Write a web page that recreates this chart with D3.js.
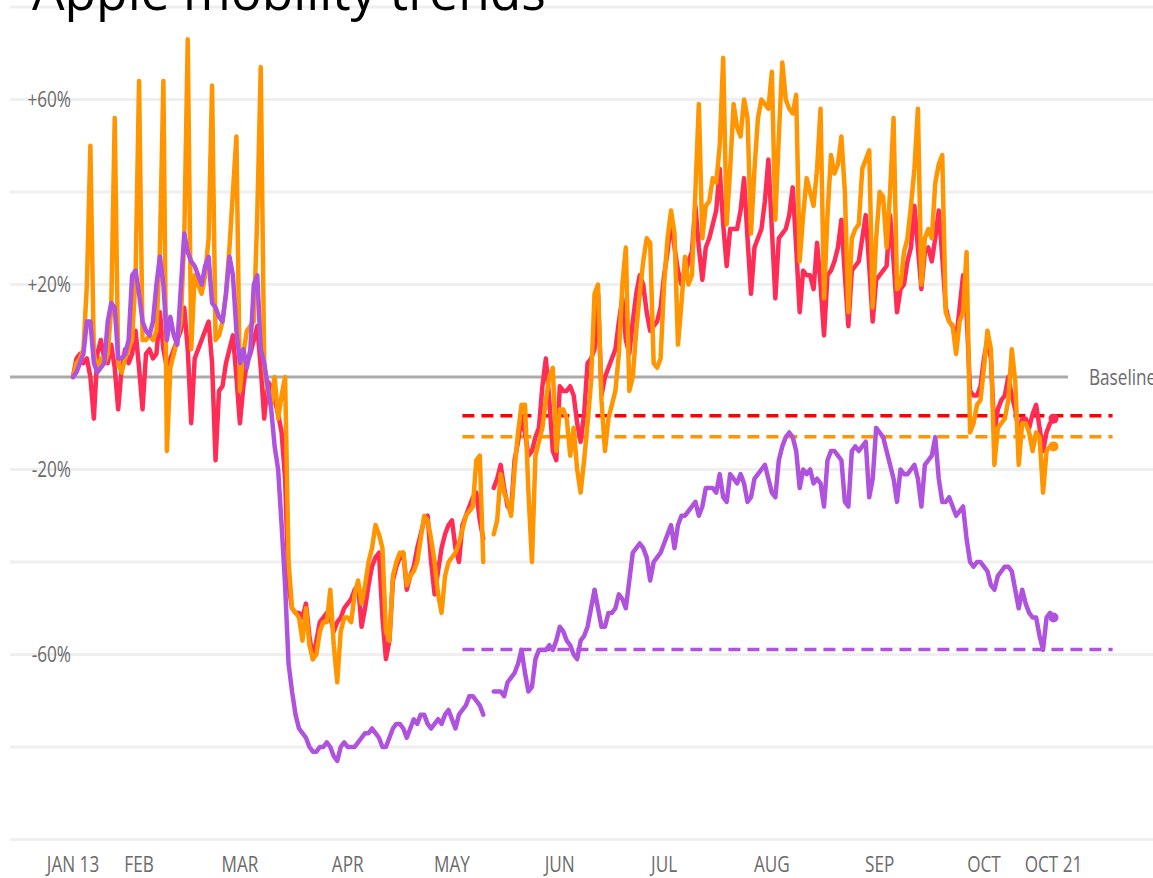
<!DOCTYPE html>
<html>
<head>
<meta charset="utf-8">
<script src="https://cdn.jsdelivr.net/npm/d3@7"></script>
<style>
  html, body { margin: 0; padding: 0; background: #fff; overflow: hidden; }
  svg { display: block; }
</style>
</head>
<body>
<svg id="chart" width="1153" height="878"></svg>
<script>
// daily % change vs Jan 13 baseline, one value per day from Jan 13 to Oct 21 (null = no data)
const firstDay = "2020-01-13";

const driving = [
  0, 4, 5, 3, 4, 0, -9,
  5, 8, 4, 3, 7, 2, -7,
  2, 6, 3, 5, 10, 2, -7,
  5, 6, 4, 5, 14, 6, 2,
  4, 6, 8, 10, 15, 6, -10,
  4, 6, 8, 10, 12, 3, -18,
  -3, -2, 3, 6, 9, 0, -10,
  -2, 3, 5, 8, 11, 2, -9,
  -1, -2, -5, -8, -12, -22, -45,
  -50, -51, -51, -52, -49, -56, -61,
  -57, -53, -52, -51, -52, -55, -53,
  -52, -50, -49, -48, -46, -45, -54,
  -50, -45, -41, -39, -38, -52, -61,
  -57, -44, -41, -39, -38, -46, -43,
  -41, -37, -34, -31, -30, -40, -47,
  -42, -37, -34, -32, -31, -37, -40,
  -32, -30, -28, -26, -25, -31, -35,
  null, null, -24, -22, -19, -24, -28,
  -29, -18, -14, -9, -12, -17, -16,
  -13, -11, -2, 4, -5, -16, -18,
  -2, -3, -3, -2, -4, -10, -14,
  -8, 3, 4, 6, 18, -4, 0,
  2, 4, 6, 12, 17, 8, 5,
  12, 18, 22, 20, 14, 10, 11,
  12, 15, 22, 27, 34, 28, 23,
  20, 22, 25, 27, 37, 28, 21,
  28, 30, 33, 36, 45, 33, 24,
  32, 32, 32, 36, 43, 30, 18,
  28, 30, 32, 38, 47, 32, 17,
  30, 31, 32, 35, 41, 28, 14,
  23, 22, 22, 19, 29, 20, 9,
  22, 23, 25, 28, 34, 22, 11,
  23, 24, 25, 30, 35, 24, 12,
  21, 22, 23, 24, 35, 25, 14,
  19, 20, 25, 28, 37, 28, 19,
  27, 28, 25, 30, 36, 26, 15,
  12, 11, 8, 15, 22, 14, -3,
  -4, -4, -2, 4, 8, 4, -12,
  -7, -5, -4, 0, -4, -7, -12,
  -9, -9, -11, -8, -6, -11, -16,
  -12, -10, -9
];

const walking = [
  0, 3, 4, 6, 20, 50, 5,
  2, 4, 3, 5, 15, 56, 3,
  1, 4, 6, 8, 22, 64, 8,
  8, 9, 8, 10, 28, 64, -16,
  2, 5, 8, 12, 30, 73, 6,
  22, 20, 18, 22, 30, 63, 8,
  9, 12, 18, 28, 40, 52, -3,
  5, 10, 11, 12, 35, 67, 2,
  -3, -6, 0, -9, -4, 0, -40,
  -50, -51, -52, -57, -50, -58, -61,
  -60, -55, -53, -53, -46, -58, -66,
  -55, -52, -52, -53, -47, -44, -49,
  -45, -40, -37, -32, -34, -37, -55,
  -57, -43, -40, -38, -38, -45, -43,
  -42, -40, -35, -30, -31, -35, -40,
  -47, -51, -43, -40, -39, -38, -36,
  -33, -30, -29, -28, -18, -17, -40,
  null, null, -34, -31, -21, -25, -27,
  -30, -20, -12, -6, -6, -25, -40,
  -17, -14, -11, -5, 0, 2, -16,
  -7, -7, -9, -17, -11, -20, -25,
  -18, -10, -1, 18, 20, -5, -16,
  -9, -6, -3, 5, 20, 28, -3,
  0, 10, 18, 25, 30, 29, 3,
  2, 4, 20, 30, 36, 31, 7,
  16, 26, 20, 22, 40, 59, 30,
  37, 38, 43, 42, 50, 69, 33,
  45, 59, 54, 52, 60, 56, 31,
  45, 56, 60, 59, 58, 66, 34,
  52, 68, 60, 58, 57, 61, 25,
  35, 43, 40, 37, 45, 58, 17,
  35, 48, 44, 46, 52, 40, 14,
  30, 32, 33, 45, 47, 49, 15,
  30, 40, 39, 28, 40, 56, 19,
  20, 27, 30, 37, 45, 58, 20,
  30, 32, 30, 42, 46, 48, 14,
  12, 11, 5, 12, 14, 27, -12,
  -10, -6, -5, 2, 10, 6, -19,
  -11, -10, -9, -5, 6, -1, -19,
  -10, -10, -12, -16, -12, -13, -25,
  -16, -15, -15
];

const transit = [
  0, 1, 3, 5, 12, 12, 3,
  1, 2, 3, 12, 16, 15, 4,
  4, 5, 8, 22, 23, 18, 12,
  10, 9, 12, 20, 26, 20, 8,
  13, 9, 7, 19, 31, 27, 25,
  24, 22, 20, 24, 26, 16, 15,
  13, 12, 18, 26, 22, 10, 3,
  6, 2, 6, 20, 22, 6, 3,
  -2, -7, -15, -20, -32, -45, -62,
  -68, -73, -76, -77, -78, -80, -81,
  -81, -80, -80, -79, -80, -82, -83,
  -80, -79, -80, -80, -80, -79, -78,
  -77, -77, -76, -77, -78, -80, -80,
  -78, -76, -75, -75, -76, -78, -76,
  -74, -75, -73, -73, -75, -76, -75,
  -74, -75, -73, -72, -74, -76, -73,
  -72, -71, -69, -69, -70, -71, -73,
  null, null, -68, -68, -68, -69, -66,
  -65, -64, -62, -59, -64, -68, -67,
  -61, -59, -59, -59, -58, -59, -57,
  -54, -55, -57, -58, -60, -61, -57,
  -56, -54, -50, -46, -50, -54, -54,
  -51, -51, -50, -47, -48, -50, -44,
  -38, -37, -36, -37, -39, -44, -40,
  -39, -38, -36, -34, -32, -37, -32,
  -30, -30, -29, -28, -27, -30, -28,
  -24, -24, -24, -25, -21, -26, -27,
  -21, -22, -23, -21, -23, -27, -26,
  -22, -21, -20, -19, -22, -25, -26,
  -18, -15, -13, -12, -13, -16, -24,
  -20, -21, -20, -23, -22, -23, -28,
  -18, -16, -16, -17, -18, -27, -28,
  -16, -15, -16, -15, -14, -26, -22,
  -11, -12, -13, -16, -19, -22, -27,
  -20, -21, -21, -20, -19, -22, -28,
  -19, -18, -17, -13, -22, -27, -27,
  -26, -28, -30, -29, -28, -35, -40,
  -41, -40, -40, -41, -42, -45, -46,
  -43, -42, -41, -41, -42, -46, -50,
  -46, -49, -51, -52, -52, -56, -59,
  -52, -51, -52
];

// dashed reference levels
const refNames = ["driving", "walking", "transit"];
const refValues = [-8.4, -12.9, -58.9];
const refSpan = ["2020-05-04", "2020-11-07"];

const seriesNames = ["driving", "walking", "transit"];
const seriesColors = ["#ff2d55", "#ff9500", "#af52de"];
const refColors = ["#ff0000", "#ff9500", "#af52de"];

const gridValues = [80, 60, 40, 20, 0, -20, -40, -60, -80, -100];
const yTickValues = [60, 20, -20, -60];
const yTickLabels = ["+60%", "+20%", "-20%", "-60%"];
const xTickDates = ["2020-01-13", "2020-02-01", "2020-03-01", "2020-04-01", "2020-05-01",
  "2020-06-01", "2020-07-01", "2020-08-01", "2020-09-01", "2020-10-01", "2020-10-21"];
const xTickLabels = ["JAN 13", "FEB", "MAR", "APR", "MAY", "JUN", "JUL", "AUG", "SEP", "OCT", "OCT 21"];

const parseDay = d3.utcParse("%Y-%m-%d");
const start = parseDay(firstDay);
const dates = d3.utcDay.range(start, d3.utcDay.offset(start, walking.length));

const svg = d3.select("#chart");
const W = 1153;
const font = "'Open Sans', 'Segoe UI', sans-serif";

const x = d3.scaleUtc()
  .domain([start, dates[dates.length - 1]])
  .range([73, 1053.5]);

const y = d3.scaleLinear()
  .domain([-100, 80])
  .range([839.5, 7]);

svg.append("rect").attr("width", W).attr("height", 878).attr("fill", "#fff");

// grid
const grid = svg.append("g").attr("id", "grid");
grid.selectAll("line")
  .data(gridValues.filter(v => v !== 0))
  .join("line")
  .attr("x1", 10)
  .attr("x2", W)
  .attr("y1", d => y(d))
  .attr("y2", d => y(d))
  .attr("stroke", "#efefef")
  .attr("stroke-width", 3);

// title (sits mostly above the top edge, as in the original)
const title = svg.append("text")
  .attr("x", 32)
  .attr("y", 10)
  .attr("font-family", font)
  .attr("font-size", 48)
  .attr("fill", "#000")
  .text("Apple mobility trends");
const tw = title.node().getComputedTextLength();
title.attr("font-size", 48 * 514 / tw);

// baseline
svg.append("line")
  .attr("x1", 10)
  .attr("x2", 1068)
  .attr("y1", y(0))
  .attr("y2", y(0))
  .attr("stroke", "#ababab")
  .attr("stroke-width", 3);

const condensed = (sel, tx, ty, anchor, size) => sel.append("g")
  .attr("transform", `translate(${tx},${ty}) scale(0.78,1)`)
  .append("text")
  .attr("text-anchor", anchor)
  .attr("font-family", font)
  .attr("font-size", size)
  .attr("fill", "#6b6b6b");

condensed(svg, 1089, y(0), "start", 22).attr("dy", "0.35em").text("Baseline");

// y labels
yTickValues.forEach((v, i) => {
  condensed(svg, 71, y(v), "end", 22).attr("dy", "0.35em").text(yTickLabels[i]);
});

// x labels
xTickDates.forEach((d, i) => {
  condensed(svg, x(parseDay(d)), 872, "middle", 22).text(xTickLabels[i]);
});

// dashed reference lines
const gRef = svg.append("g").attr("id", "refs");
refValues.forEach((v, i) => {
  gRef.append("line")
    .attr("x1", x(parseDay(refSpan[0])))
    .attr("x2", x(parseDay(refSpan[1])))
    .attr("y1", y(v))
    .attr("y2", y(v))
    .attr("stroke", refColors[i])
    .attr("stroke-width", 3.5)
    .attr("stroke-dasharray", "12,7");
});

// series lines
const line = d3.line()
  .defined(d => d.value !== null)
  .x(d => x(d.date))
  .y(d => y(d.value));

const gLines = svg.append("g").attr("id", "lines");
[driving, walking, transit].forEach((values, i) => {
  const data = values.map((v, k) => ({ date: dates[k], value: v }));
  gLines.append("path")
    .datum(data)
    .attr("id", "line-" + seriesNames[i])
    .attr("fill", "none")
    .attr("stroke", seriesColors[i])
    .attr("stroke-width", 4.5)
    .attr("stroke-linejoin", "round")
    .attr("stroke-linecap", "round")
    .attr("d", line);

  const last = data[data.length - 1];
  gLines.append("circle")
    .attr("cx", x(last.date))
    .attr("cy", y(last.value))
    .attr("r", 5)
    .attr("fill", seriesColors[i]);
});
</script>
</body>
</html>
